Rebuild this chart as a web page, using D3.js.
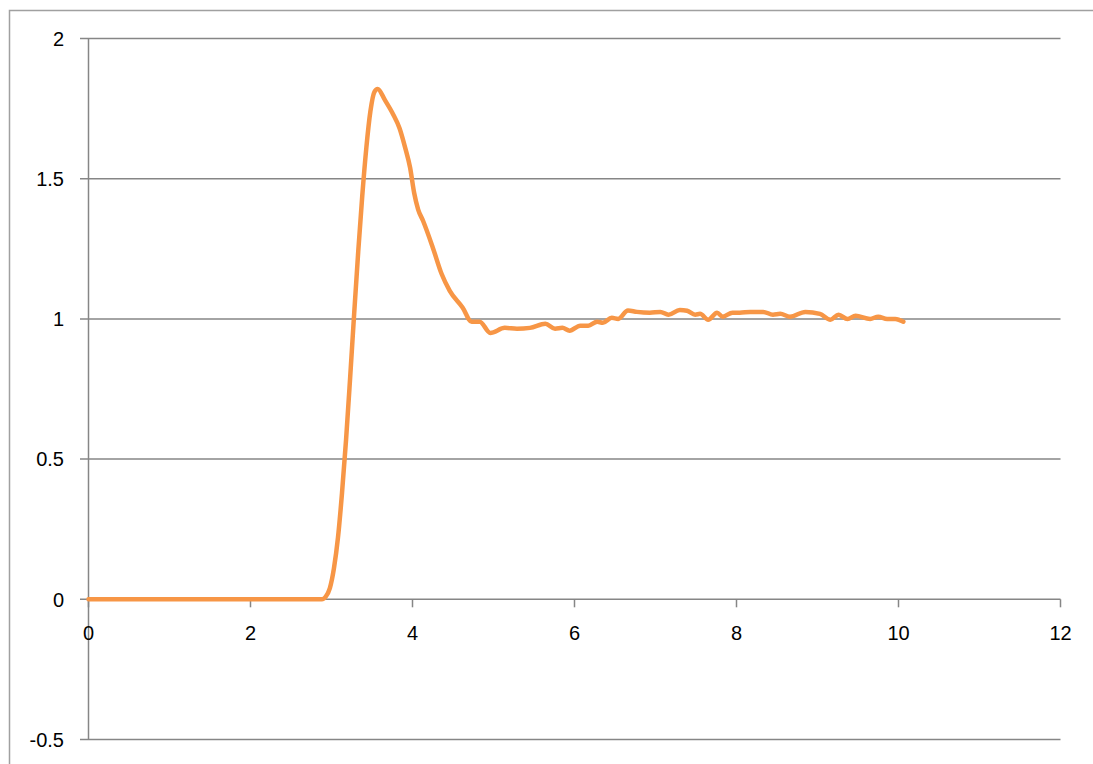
<!DOCTYPE html>
<html>
<head>
<meta charset="utf-8">
<script src="https://cdn.jsdelivr.net/npm/d3@7"></script>
<style>
  html, body { margin: 0; padding: 0; background: #fff; }
  svg { display: block; }
  .tick-label { font-family: "Liberation Sans", Arial, sans-serif; font-size: 20px; fill: #000; }
</style>
</head>
<body>
<svg id="chart" width="1093" height="764"></svg>
<script>
// series
const xValues = [0, 2.88, 2.93, 2.98, 3.03, 3.08, 3.13, 3.18, 3.23, 3.28, 3.33, 3.38, 3.43, 3.48, 3.53, 3.57,
  3.66, 3.76, 3.84, 3.91, 3.97, 4.02, 4.07, 4.13, 4.25, 4.36, 4.46,
  4.62, 4.73, 4.83, 4.96, 5.14, 5.29, 5.45, 5.64, 5.76, 5.85, 5.94, 6.07, 6.17, 6.28, 6.35, 6.46,
  6.54, 6.66, 6.77, 6.93, 7.06, 7.16, 7.30, 7.39, 7.49, 7.55, 7.65, 7.76, 7.83, 7.95, 8.04, 8.17, 8.33,
  8.45, 8.54, 8.66, 8.85, 9.03, 9.16, 9.26, 9.37, 9.47, 9.65, 9.75, 9.86, 9.96, 10.06];
const yValues = [0, 0, 0.01, 0.04, 0.11, 0.22, 0.38, 0.57, 0.79, 1.02, 1.24, 1.44, 1.61, 1.74, 1.81, 1.82,
  1.78, 1.73, 1.68, 1.61, 1.54, 1.45, 1.39, 1.35, 1.255, 1.16, 1.10,
  1.04, 0.99, 0.99, 0.95, 0.968, 0.965, 0.968, 0.983, 0.965, 0.968, 0.958, 0.976, 0.976, 0.990, 0.986, 1.004,
  1.0, 1.03, 1.025, 1.022, 1.025, 1.015, 1.032, 1.029, 1.015, 1.018, 0.997, 1.022, 1.008, 1.022, 1.022, 1.025, 1.025,
  1.015, 1.018, 1.008, 1.025, 1.018, 0.997, 1.015, 1.0, 1.011, 1.0, 1.008, 1.0, 1.0, 0.99];
const xTicks = [0, 2, 4, 6, 8, 10, 12];
const yTicks = [-0.5, 0, 0.5, 1, 1.5, 2];

const svg = d3.select("#chart");
const gridColor = "#868686";

// outer chart border (runs off the right and bottom)
svg.append("rect")
  .attr("x", 9.5).attr("y", 10.5)
  .attr("width", 1100).attr("height", 800)
  .attr("fill", "none")
  .attr("stroke", "#a0a0a0")
  .attr("stroke-width", 1.5);

const x = d3.scaleLinear().domain([0, 12]).range([88.5, 1060.5]);
const y = d3.scaleLinear().domain([-0.5, 2]).range([739.5, 38.5]);

// horizontal gridlines + left ticks
svg.append("g")
  .selectAll("line")
  .data(yTicks)
  .join("line")
  .attr("x1", 80).attr("x2", x(12))
  .attr("y1", d => y(d)).attr("y2", d => y(d))
  .attr("stroke", gridColor)
  .attr("stroke-width", 1.5);

// vertical axis line
svg.append("line")
  .attr("x1", x(0)).attr("x2", x(0))
  .attr("y1", y(2)).attr("y2", y(-0.5))
  .attr("stroke", gridColor)
  .attr("stroke-width", 1.5);

// x tick marks hanging from the zero line
svg.append("g")
  .selectAll("line")
  .data(xTicks)
  .join("line")
  .attr("x1", d => x(d)).attr("x2", d => x(d))
  .attr("y1", y(0)).attr("y2", y(0) + 8)
  .attr("stroke", gridColor)
  .attr("stroke-width", 1.5);

svg.append("g")
  .selectAll("text")
  .data(yTicks)
  .join("text")
  .attr("class", "tick-label")
  .attr("x", 64)
  .attr("y", d => y(d))
  .attr("dy", "0.36em")
  .attr("text-anchor", "end")
  .text(d => d);

svg.append("g")
  .selectAll("text")
  .data(xTicks)
  .join("text")
  .attr("class", "tick-label")
  .attr("x", d => x(d))
  .attr("y", 640)
  .attr("text-anchor", "middle")
  .text(d => d);

const pts = xValues.map((v, i) => [v, yValues[i]]);
const line = d3.line()
  .x(d => x(d[0]))
  .y(d => y(d[1]))
  .curve(d3.curveMonotoneX);

svg.append("path")
  .datum(pts)
  .attr("d", line)
  .attr("fill", "none")
  .attr("stroke", "#f79646")
  .attr("stroke-width", 4.5)
  .attr("stroke-linejoin", "round")
  .attr("stroke-linecap", "round");
</script>
</body>
</html>
